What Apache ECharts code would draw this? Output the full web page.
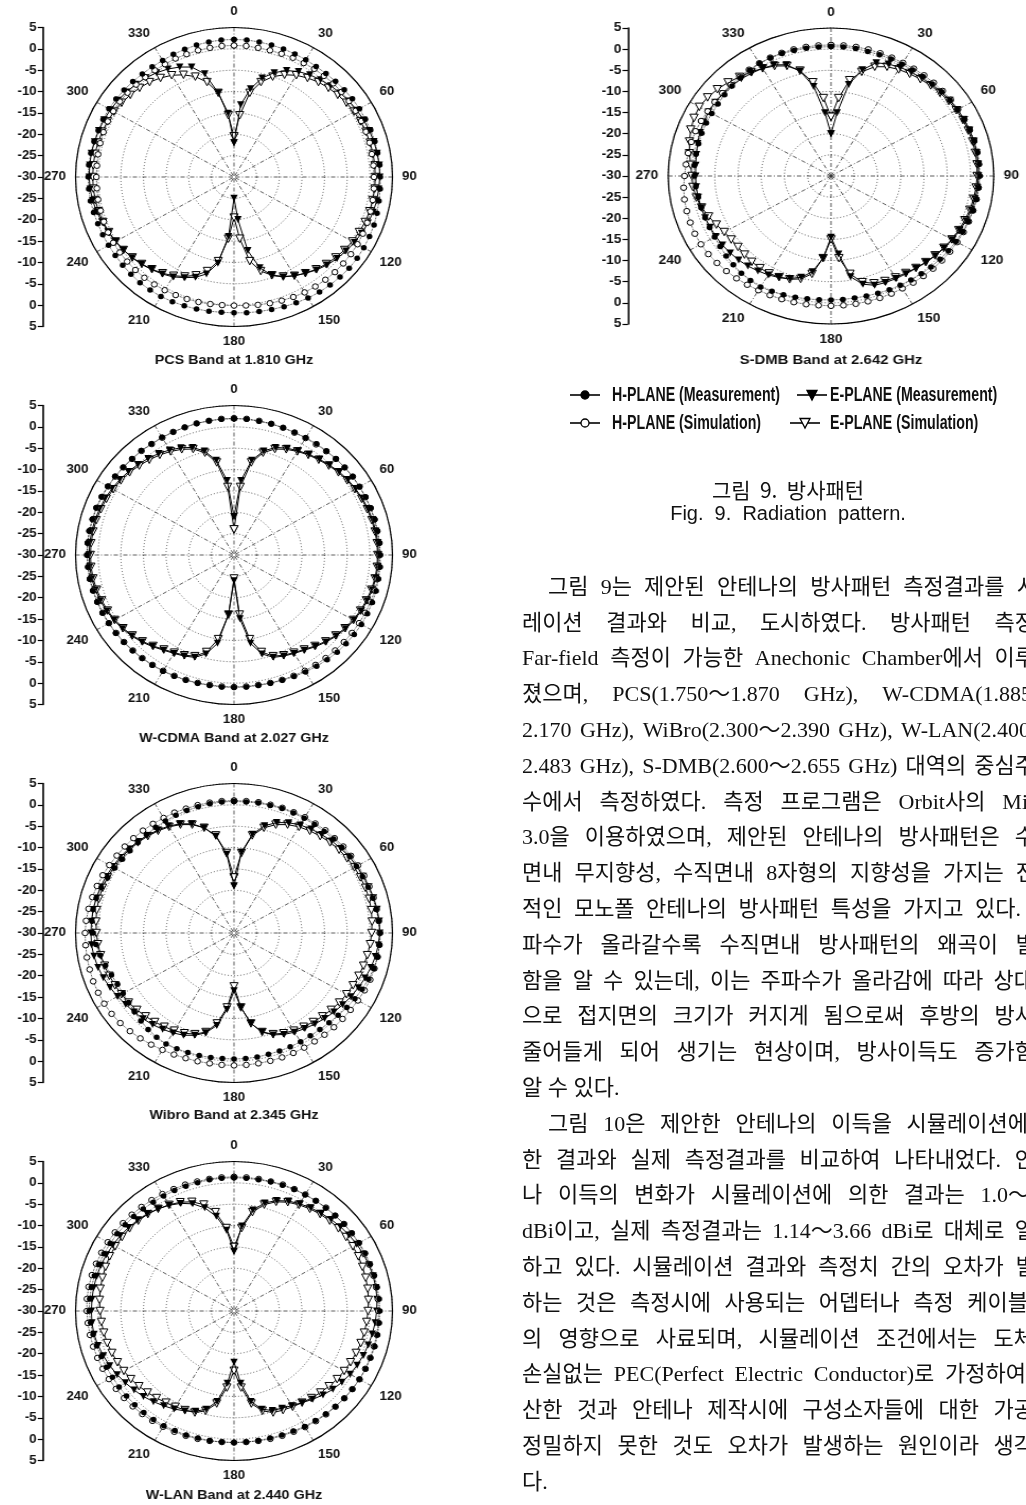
<!DOCTYPE html>
<html><head><meta charset="utf-8">
<script src="https://cdn.jsdelivr.net/npm/echarts@6/dist/echarts.min.js"></script>
<style>
html,body{margin:0;padding:0;background:#fff;width:1026px;height:1505px;overflow:hidden;}
#page{position:absolute;left:0;top:0;width:1026px;height:1505px;}
.plot{position:absolute;}
</style></head><body>
<div id="page"></div>
<div id="p0" class="plot"></div><div id="p1" class="plot"></div><div id="p2" class="plot"></div>
<div id="p3" class="plot"></div><div id="p4" class="plot"></div>
<script>
// ---------- DATA (dB, angles 0..355 step 5) ----------
const ANGLES = Array.from({length:72},(_, i)=>i*5);
const seriesNames = ['H-PLANE (Measurement)','H-PLANE (Simulation)','E-PLANE (Measurement)','E-PLANE (Simulation)'];
const plotTitles = ['PCS Band at 1.810 GHz','W-CDMA Band at 2.027 GHz','Wibro Band at 2.345 GHz','W-LAN Band at 2.440 GHz','S-DMB Band at 2.642 GHz'];

const pcsHMeas = [2.2,2.2,2.1,2.0,1.9,1.8,1.7,1.6,1.6,1.7,1.8,1.9,
 2.0,2.0,2.1,2.2,2.2,2.3,2.3,2.4,2.5,2.7,2.9,3.0,
 3.1,3.2,3.2,3.1,3.0,2.9,2.7,2.5,2.3,2.1,2.0,1.9,
 1.8,1.8,1.9,2.0,2.1,2.2,2.3,2.3,2.3,2.2,2.1,2.0,
 2.0,2.0,2.0,2.1,2.2,2.2,2.2,2.2,2.1,2.0,1.9,1.9,
 1.9,1.8,1.7,1.6,1.5,1.5,1.5,1.7,1.8,2.0,2.1,2.2];
const pcsHSim = [0.8,0.8,0.7,0.7,0.7,0.8,0.8,0.9,0.9,1.0,1.0,1.0,
 1.0,1.0,1.0,1.0,0.9,0.9,0.9,1.0,1.1,1.2,1.3,1.4,
 1.5,1.5,1.5,1.5,1.4,1.3,1.2,1.0,0.8,0.6,0.4,0.2,
 0.1,0.1,0.2,0.3,0.4,0.5,0.6,0.7,0.8,0.8,0.8,0.8,
 0.8,0.7,0.6,0.5,0.5,0.4,0.4,0.4,0.5,0.6,0.7,0.8,
 0.8,0.8,0.7,0.6,0.5,0.5,0.5,0.6,0.6,0.7,0.7,0.8];
const pcsEMeas = [-22,-13,-9,-6,-4,-2.5,-1.5,-0.8,-0.3,0.2,0.6,1.0,
 1.3,1.6,1.8,2.0,2.1,2.2,2.2,2.1,2.0,1.8,1.5,1.1,
 0.7,0.2,-0.3,-0.9,-1.6,-2.5,-3.3,-4.2,-5.5,-8,-12.5,-20,
 -25,-16,-9.5,-6.5,-5,-4,-3,-2.3,-1.7,-1.1,-0.6,-0.2,
 0.2,0.6,1.0,1.4,1.7,1.9,2.0,2.0,2.0,1.9,1.8,1.7,
 1.5,1.3,1.0,0.7,0.3,-0.2,-0.8,-1.6,-2.6,-5,-10,-15];
const pcsESim = [-20.5,-15.5,-10,-7,-5,-3.6,-2.5,-1.7,-1.0,-0.5,-0.1,0.3,
 0.6,0.8,1.0,1.1,1.2,1.2,1.2,1.2,1.1,1.0,0.8,0.5,
 0.2,-0.2,-0.7,-1.2,-1.8,-2.5,-3.3,-4.3,-5.5,-7.2,-10,-15.5,
 -20.5,-15.5,-10,-7.2,-5.5,-4.3,-3.3,-2.5,-1.8,-1.2,-0.7,-0.2,
 0.2,0.5,0.8,1.0,1.1,1.2,1.2,1.2,1.2,1.1,1.0,0.8,
 0.6,0.3,-0.1,-0.5,-1.0,-1.7,-2.5,-3.6,-5,-7,-10,-15.5];

const wcHMeas = [1.9,1.9,1.8,1.8,1.7,1.7,1.7,1.8,1.8,1.9,1.9,2.0,
 2.0,2.1,2.1,2.2,2.2,2.3,2.3,2.4,2.4,2.5,2.5,2.5,
 2.5,2.4,2.3,2.2,2.0,1.8,1.6,1.4,1.2,1.1,1.0,1.0,
 1.0,1.0,1.0,1.1,1.2,1.3,1.4,1.5,1.6,1.7,1.8,1.9,
 2.0,2.1,2.2,2.3,2.4,2.4,2.5,2.5,2.5,2.4,2.4,2.3,
 2.2,2.1,2.0,1.9,1.9,1.8,1.8,1.8,1.8,1.9,1.9,1.9];
const wcHSim = [2.0,2.0,1.9,1.8,1.7,1.6,1.6,1.6,1.7,1.8,1.9,2.0,
 2.0,2.0,2.1,2.1,2.1,2.2,2.2,2.2,2.2,2.2,2.1,2.0,
 1.9,1.8,1.7,1.6,1.5,1.4,1.3,1.2,1.1,1.0,0.9,0.9,
 0.9,0.9,0.9,1.0,1.1,1.2,1.3,1.4,1.5,1.6,1.7,1.8,
 1.9,2.0,2.1,2.2,2.3,2.3,2.4,2.4,2.4,2.3,2.3,2.2,
 2.1,2.0,1.9,1.8,1.8,1.7,1.7,1.8,1.8,1.9,1.9,2.0];
const wcEMeas = [-21,-12.5,-7.5,-4.8,-3.2,-2.4,-1.8,-1.2,-0.7,-0.2,0.3,0.7,
 1.0,1.3,1.5,1.7,1.8,1.9,1.9,1.9,1.8,1.6,1.3,1.0,
 0.6,0.1,-0.5,-1.2,-2.0,-2.8,-3.4,-3.9,-4.5,-6,-9,-15,
 -24,-16,-9,-6,-4.5,-3.9,-3.4,-2.8,-2.0,-1.2,-0.5,0.1,
 0.6,1.0,1.4,1.7,1.9,2.0,2.0,2.0,1.9,1.8,1.6,1.4,
 1.1,0.8,0.4,0,-0.5,-1.0,-1.6,-2.3,-3.2,-4.8,-7.5,-12.5];
const wcESim = [-24,-14,-8,-5.2,-3.6,-2.7,-2.0,-1.4,-0.9,-0.4,0.1,0.5,
 0.8,1.1,1.3,1.5,1.6,1.7,1.7,1.7,1.6,1.4,1.1,0.8,
 0.4,-0.1,-0.7,-1.4,-2.2,-3.0,-3.6,-4.1,-4.8,-6.5,-10,-16,
 -24.5,-16,-10,-6.5,-4.8,-4.1,-3.6,-3.0,-2.2,-1.4,-0.7,-0.1,
 0.4,0.8,1.1,1.4,1.6,1.7,1.7,1.7,1.6,1.5,1.3,1.1,
 0.8,0.5,0.1,-0.4,-0.9,-1.4,-2.0,-2.7,-3.6,-5.2,-8,-14];

const wbHMeas = [0.8,0.8,0.9,0.9,1.0,1.0,1.0,1.0,1.0,1.1,1.1,1.2,
 1.2,1.3,1.5,1.7,1.9,2.1,2.3,2.3,2.2,2.0,1.6,1.2,
 0.8,0.4,0.0,-0.3,-0.5,-0.6,-0.6,-0.6,-0.6,-0.6,-0.5,-0.5,
 -0.5,-0.5,-0.4,-0.3,-0.2,-0.1,0.0,-0.2,-0.5,-0.9,-1.3,-1.6,
 -1.7,-1.6,-1.2,-0.6,0.0,0.6,1.1,1.5,1.6,1.5,1.2,0.8,
 0.4,0.1,0.0,0.0,0.1,0.2,0.3,0.4,0.5,0.6,0.7,0.8];
const wbHSim = [1.0,1.0,1.1,1.1,1.2,1.2,1.3,1.3,1.4,1.4,1.5,1.5,
 1.6,1.7,1.8,1.9,2.0,2.1,2.2,2.2,2.2,2.1,2.0,1.8,
 1.6,1.4,1.3,1.2,1.1,1.0,1.0,1.0,1.0,1.0,1.0,1.0,
 1.0,1.0,1.0,1.1,1.2,1.4,1.6,1.9,2.2,2.5,2.8,3.0,
 3.1,3.1,3.1,3.0,3.0,2.9,2.9,2.8,2.6,2.4,2.2,2.0,
 1.8,1.6,1.5,1.4,1.3,1.2,1.1,1.1,1.0,1.0,1.0,1.0];
const wbEMeas = [-19,-11,-6.5,-4,-2.5,-1.5,-0.8,-0.3,0.1,0.5,0.8,1.1,
 1.3,1.5,1.7,1.9,2.1,2.2,2.2,2.0,1.7,1.3,0.8,0.3,
 -0.2,-0.7,-1.2,-1.7,-2.2,-2.7,-3.2,-3.8,-4.6,-6,-8.5,-12.5,
 -16.5,-12,-8,-5.8,-4.5,-3.6,-3.0,-2.5,-2.0,-1.6,-1.2,-0.8,
 -0.3,0.2,0.7,1.1,1.4,1.6,1.6,1.6,1.6,1.5,1.4,1.2,
 1.0,0.8,0.5,0.2,-0.2,-0.6,-1.1,-1.8,-2.8,-4.5,-7,-11.5];
const wbESim = [-17,-11.2,-6.8,-4.5,-3.0,-2.0,-1.3,-0.8,-0.4,0,0.3,0.5,
 0.7,0.8,0.9,0.9,0.8,0.6,0.4,0.2,-0.1,-0.4,-0.7,-1.0,
 -1.3,-1.6,-2.0,-2.4,-2.8,-3.2,-3.6,-4.1,-4.8,-6,-8.5,-12.5,
 -17.5,-12.5,-8.5,-6,-4.8,-4.1,-3.6,-3.2,-2.8,-2.4,-2.0,-1.6,
 -1.3,-1.0,-0.7,-0.4,-0.1,0.2,0.4,0.6,0.8,0.9,0.9,0.8,
 0.7,0.5,0.3,0,-0.4,-0.8,-1.3,-2.0,-3.0,-4.5,-6.8,-11.2];

const wlHMeas = [1.2,1.2,1.2,1.3,1.3,1.4,1.4,1.5,1.5,1.6,1.7,1.8,
 1.9,2.0,2.0,2.1,2.1,2.2,2.2,2.2,2.2,2.2,2.1,2.1,
 2.0,1.9,1.8,1.6,1.5,1.3,1.2,1.0,0.9,0.8,0.8,0.8,
 0.8,0.8,0.8,0.8,0.9,0.9,1.0,1.0,1.0,1.0,1.0,1.0,
 1.0,1.1,1.2,1.4,1.6,1.8,2.0,2.0,2.0,1.9,1.8,1.7,
 1.6,1.5,1.4,1.3,1.2,1.1,1.1,1.1,1.1,1.1,1.2,1.2];
const wlHSim = [1.4,1.4,1.4,1.4,1.5,1.5,1.5,1.5,1.6,1.6,1.7,1.7,
 1.8,1.8,1.8,1.9,1.9,1.9,1.9,2.0,2.0,2.0,2.0,2.0,
 2.0,1.9,1.8,1.7,1.6,1.5,1.4,1.2,1.1,1.0,0.9,0.8,
 0.8,0.8,0.9,1.0,1.1,1.2,1.3,1.4,1.5,1.6,1.7,1.8,
 1.9,2.0,2.1,2.2,2.3,2.4,2.5,2.6,2.6,2.5,2.4,2.3,
 2.2,2.1,2.0,1.9,1.8,1.7,1.6,1.5,1.5,1.4,1.4,1.4];
const wlEMeas = [-16,-10,-6,-3.8,-2.5,-1.6,-1.0,-0.5,-0.1,0.3,0.7,1.0,
 1.3,1.5,1.7,1.8,1.8,1.7,1.5,1.3,1.0,0.7,0.4,0.0,
 -0.4,-0.9,-1.5,-2.2,-3.0,-3.8,-4.4,-4.9,-5.2,-6.2,-8.5,-13,
 -18,-13,-8.5,-6.2,-5.0,-4.2,-3.5,-2.9,-2.3,-1.7,-1.2,-0.7,
 -0.2,0.3,0.7,1.1,1.4,1.5,1.5,1.5,1.5,1.4,1.3,1.1,
 0.9,0.7,0.4,0.1,-0.3,-0.8,-1.4,-2.2,-3.3,-5,-7.5,-11];
const wlESim = [-15,-10.5,-6.5,-4.2,-2.8,-1.9,-1.3,-0.8,-0.4,-0.1,0.1,0.2,
 0.3,0.3,0.2,0.1,0,-0.2,-0.4,-0.6,-0.8,-1.0,-1.3,-1.6,
 -1.9,-2.2,-2.6,-3.0,-3.4,-3.8,-4.1,-4.4,-4.7,-5.8,-8,-12,
 -16,-12,-8,-5.8,-4.7,-4.4,-4.1,-3.8,-3.4,-3.0,-2.6,-2.2,
 -1.9,-1.6,-1.3,-1.0,-0.8,-0.6,-0.4,-0.2,0,0.1,0.2,0.3,
 0.3,0.2,0.1,-0.1,-0.4,-0.8,-1.3,-1.9,-2.8,-4.2,-6.5,-10.5];

const sdHMeas = [0.6,0.6,0.6,0.5,0.5,0.5,0.5,0.6,0.7,0.8,1.0,1.2,
 1.4,1.6,1.8,1.9,2.0,2.0,2.0,1.9,1.8,1.6,1.4,1.2,
 1.0,0.8,0.6,0.4,0.2,0.0,-0.2,-0.3,-0.5,-0.6,-0.7,-0.7,
 -0.7,-0.6,-0.5,-0.3,-0.1,0.1,0.3,0.2,0.0,-0.3,-0.6,-0.9,
 -1.1,-1.2,-1.2,-1.1,-1.0,-0.8,-0.6,-0.5,-0.5,-0.5,-0.4,-0.4,
 -0.4,-0.3,-0.1,0.1,0.3,0.5,0.7,0.8,0.8,0.7,0.7,0.6];
const sdHSim = [1.0,1.0,1.0,1.0,0.9,0.9,0.9,1.0,1.1,1.2,1.3,1.4,
 1.5,1.6,1.7,1.8,1.8,1.8,1.8,1.8,1.7,1.6,1.5,1.4,
 1.3,1.2,1.1,1.0,0.9,0.8,0.7,0.7,0.7,0.7,0.7,0.7,
 0.7,0.7,0.8,0.9,1.0,1.1,1.2,1.4,1.6,1.8,2.0,2.2,
 2.3,2.3,2.2,2.1,2.0,1.8,1.5,1.3,1.2,1.1,1.0,0.8,
 0.6,0.5,0.5,0.5,0.6,0.7,0.8,0.9,1.0,1.0,1.0,1.0];
const sdEMeas = [-20,-15,-8,-4,-1.5,-0.8,-0.3,0,0.3,0.6,0.9,1.2,
 1.4,1.6,1.7,1.8,1.8,1.8,1.7,1.6,1.4,1.2,0.9,0.5,
 0.1,-0.3,-0.7,-1.1,-1.5,-1.8,-2.0,-2.2,-2.5,-3.5,-5.8,-11.5,
 -15.5,-10.5,-7,-5.2,-4.2,-3.5,-3.0,-2.6,-2.2,-1.9,-1.7,-1.5,
 -1.4,-1.3,-1.2,-1.1,-1.0,-0.9,-0.9,-0.8,-0.6,-0.3,0,0.2,
 0.4,0.4,0.3,0.2,0.0,-0.3,-0.6,-1.0,-2.0,-4.3,-8.5,-15];
const sdESim = [-16,-11.5,-7,-4.5,-2.5,-1.5,-0.9,-0.5,-0.1,0.3,0.6,0.9,
 1.1,1.3,1.4,1.5,1.5,1.5,1.4,1.3,1.1,0.9,0.6,0.3,
 0,-0.4,-0.8,-1.2,-1.6,-2.0,-2.3,-2.6,-3.0,-4,-6.5,-10.5,
 -15,-10.5,-6.5,-4.8,-4.0,-3.6,-3.4,-3.4,-3.5,-3.7,-3.9,-3.8,
 -3.5,-2.8,-2.0,-1.2,-0.6,-0.2,-0.1,0.3,0.9,1.5,2.1,2.5,
 2.7,2.4,1.9,1.3,0.6,0,-0.6,-1.3,-2.3,-4.2,-7.5,-11.5];

const bodyLines = [
 '그림 9는 제안된 안테나의 방사패턴 측정결과를 시',
 '레이션 결과와 비교, 도시하였다. 방사패턴 측정',
 'Far-field 측정이 가능한 Anechonic Chamber에서 이루',
 '졌으며, PCS(1.750～1.870 GHz), W-CDMA(1.885',
 '2.170 GHz), WiBro(2.300～2.390 GHz), W-LAN(2.400',
 '2.483 GHz), S-DMB(2.600～2.655 GHz) 대역의 중심주',
 '수에서 측정하였다. 측정 프로그램은 Orbit사의 Mi',
 '3.0을 이용하였으며, 제안된 안테나의 방사패턴은 수',
 '면내 무지향성, 수직면내 8자형의 지향성을 가지는 전',
 '적인 모노폴 안테나의 방사패턴 특성을 가지고 있다.',
 '파수가 올라갈수록 수직면내 방사패턴의 왜곡이 발',
 '함을 알 수 있는데, 이는 주파수가 올라감에 따라 상대',
 '으로 접지면의 크기가 커지게 됨으로써 후방의 방사',
 '줄어들게 되어 생기는 현상이며, 방사이득도 증가함',
 '알 수 있다.',
 '그림 10은 제안한 안테나의 이득을 시뮬레이션에',
 '한 결과와 실제 측정결과를 비교하여 나타내었다. 안',
 '나 이득의 변화가 시뮬레이션에 의한 결과는 1.0～',
 'dBi이고, 실제 측정결과는 1.14～3.66 dBi로 대체로 일',
 '하고 있다. 시뮬레이션 결과와 측정치 간의 오차가 발',
 '하는 것은 측정시에 사용되는 어뎁터나 측정 케이블',
 '의 영향으로 사료되며, 시뮬레이션 조건에서는 도체',
 '손실없는 PEC(Perfect Electric Conductor)로 가정하여',
 '산한 것과 안테나 제작시에 구성소자들에 대한 가공',
 '정밀하지 못한 것도 오차가 발생하는 원인이라 생각',
 '다.'
];

// ---------- LAYOUT ----------
const bodyIndent = [1,0,0,0,0,0,0,0,0,0,0,0,0,0,0,1,0,0,0,0,0,0,0,0,0,0];
const bodyRight = [1037,1035,1035,1032,1030,1035,1028,1035,1036,1021,1036,1034,1035,1035,0,1028,1035,1030,1035,1036,1028,1034,1026,1034,1034,0];
const BODY = {left:522, indentLeft:548, firstY:588, step:35.8, font:'22px "Liberation Serif", "Noto Sans CJK KR", serif'};

const PLOTS = [
 {el:'p0', t:0, data:[pcsHMeas,pcsHSim,pcsEMeas,pcsESim], cx:234, cy:177, r:149.5, sx:1.06, axisX:43, titleY:360},
 {el:'p1', t:1, data:[wcHMeas,wcHSim,wcEMeas,wcESim], cx:234, cy:555, r:149.5, sx:1.06, axisX:43, titleY:738},
 {el:'p2', t:2, data:[wbHMeas,wbHSim,wbEMeas,wbESim], cx:234, cy:933, r:149.5, sx:1.06, axisX:43, titleY:1115},
 {el:'p3', t:3, data:[wlHMeas,wlHSim,wlEMeas,wlESim], cx:234, cy:1311, r:149.5, sx:1.06, axisX:43, titleY:1495},
 {el:'p4', t:4, data:[sdHMeas,sdHSim,sdEMeas,sdESim], cx:831, cy:176, r:148, sx:1.10, axisX:628, titleY:360}
];

const LBL_FONT = '"Liberation Sans", Arial, sans-serif';

function makeSeries(vals, k){
  const pts = vals.map((v,i)=>[v, ANGLES[i]]);
  pts.push([vals[0], 360]);
  const base = {type:'line', coordinateSystem:'polar', polarIndex:0, data:pts, name:seriesNames[k],
    animation:false, silent:true, smooth:false};
  const black = '#000';
  if(k===0) return Object.assign(base,{symbol:'circle', symbolSize:5.5, itemStyle:{color:black},
      lineStyle:{color:black,width:0.8,type:'dotted'}, z:4});
  if(k===1) return Object.assign(base,{symbol:'circle', symbolSize:5.5, itemStyle:{color:'#fff',borderColor:black,borderWidth:1},
      lineStyle:{color:black,width:0.8,type:'dotted'}, z:3});
  if(k===2) return Object.assign(base,{symbol:'triangle', symbolRotate:180, symbolSize:7, itemStyle:{color:black},
      lineStyle:{color:black,width:1}, z:2});
  return Object.assign(base,{symbol:'triangle', symbolRotate:180, symbolSize:7.5, itemStyle:{color:'#fff',borderColor:black,borderWidth:1},
      lineStyle:{color:black,width:1}, z:1});
}

PLOTS.forEach(p=>{
  const W=460, H=420, lcx=230, lcy=195;
  const el = document.getElementById(p.el);
  el.style.left=(p.cx-lcx)+'px'; el.style.top=(p.cy-lcy)+'px';
  el.style.width=W+'px'; el.style.height=H+'px';
  el.style.transformOrigin = lcx+'px '+lcy+'px';
  el.style.transform = 'scaleX('+p.sx+')';
  const axisLocalX = lcx - (p.cx-p.axisX)/p.sx;
  const chart = echarts.init(el, null, {renderer:'canvas'});
  chart.setOption({
    animation:false,
    polar:{center:[lcx,lcy], radius:p.r},
    angleAxis:{type:'value', min:0, max:360, interval:30, startAngle:90, clockwise:true,
      axisLine:{show:true, lineStyle:{color:'#000', width:1.2}},
      axisTick:{show:false},
      axisLabel:{show:true, margin:9, color:'#111', fontWeight:'bold', fontSize:12.5, fontFamily:LBL_FONT,
        formatter:v=> (v>=360?'':String(v))},
      splitLine:{show:true, lineStyle:{color:'#333', width:0.8, type:[4,2,1,2]}}},
    radiusAxis:{type:'value', min:-30, max:5, interval:5,
      axisLine:{show:false}, axisTick:{show:false}, axisLabel:{show:false},
      splitLine:{show:true, lineStyle:{color:'#333', width:0.8, type:[1,2]}}},
    grid:{left:axisLocalX, top:lcy-p.r, width:10, height:2*p.r},
    xAxis:{type:'value', show:false, min:0, max:1},
    yAxis:{type:'value', min:-35, max:35, interval:5, position:'left',
      axisLine:{show:true, onZero:false, lineStyle:{color:'#000', width:1.6}},
      axisTick:{show:true, length:5, lineStyle:{color:'#000', width:1.2}},
      axisLabel:{show:true, margin:6, color:'#111', fontWeight:'bold', fontSize:12.5, fontFamily:LBL_FONT,
        formatter:v=>String(Math.abs(v)-30)},
      splitLine:{show:false}},
    graphic:{elements:[{type:'text', x:lcx, y:p.titleY-p.cy+lcy,
      style:{text:plotTitles[p.t], font:'bold 13.5px '+LBL_FONT, fill:'#111', align:'center', verticalAlign:'middle',
        textAlign:'center', textVerticalAlign:'middle'}}]},
    series:[makeSeries(p.data[3],3), makeSeries(p.data[2],2), makeSeries(p.data[1],1), makeSeries(p.data[0],0)]
  });
});

// ---------- page text (legend, caption, body) ----------
const page = echarts.init(document.getElementById('page'), null, {renderer:'canvas'});
const els = [];
function txt(text,x,y,font,align,sx){
  els.push({type:'text', x:x, y:y, scaleX:sx||1, silent:true,
    style:{text:text, font:font, fill:'#111', align:align||'left', verticalAlign:'middle',
      textAlign:align||'left', textVerticalAlign:'middle'}});
}
// legend
const LEG_FONT = 'bold 20px "Liberation Sans", Arial, sans-serif';
const legendItems = [
  {x:570, y:395, kind:0, tx:612}, {x:797, y:395, kind:2, tx:830},
  {x:570, y:423, kind:1, tx:612}, {x:790, y:423, kind:3, tx:830}];
legendItems.forEach(it=>{
  const w = 30, mx = it.x + w/2;
  els.push({type:'line', silent:true, shape:{x1:it.x, y1:it.y, x2:it.x+w, y2:it.y}, style:{stroke:'#000', lineWidth:1.6}});
  const fill = (it.kind===0||it.kind===2)?'#000':'#fff';
  if(it.kind<2) els.push({type:'circle', silent:true, shape:{cx:mx, cy:it.y, r:4}, style:{fill:fill, stroke:'#000', lineWidth:1.3}});
  else els.push({type:'polygon', silent:true, shape:{points:[[mx-5,it.y-4.5],[mx+5,it.y-4.5],[mx,it.y+5]]}, style:{fill:fill, stroke:'#000', lineWidth:1.3}});
  txt(seriesNames[it.kind], it.tx, it.y, LEG_FONT, 'left', 0.71);
});
// caption
txt('그림  9.  방사패턴', 788, 490, '21px "Noto Sans CJK KR", sans-serif', 'center');
txt('Fig.  9.  Radiation  pattern.', 788, 514, '20px "Liberation Sans", Arial, sans-serif', 'center');
// body text, justified line by line
const mctx = document.createElement('canvas').getContext('2d');
mctx.font = BODY.font;
const spaceW = mctx.measureText(' ').width;
bodyLines.forEach((line,i)=>{
  const words = line.split(' ');
  const widths = words.map(w=>mctx.measureText(w).width);
  const total = widths.reduce((a,b)=>a+b,0);
  const left = bodyIndent[i] ? BODY.indentLeft : BODY.left;
  let gap = spaceW;
  if(bodyRight[i] && words.length>1){ gap = (bodyRight[i]-left-total)/(words.length-1); if(gap<4) gap=4; }
  let x = left; const y = BODY.firstY + i*BODY.step;
  words.forEach((w,j)=>{ txt(w, x, y, BODY.font, 'left'); x += widths[j]+gap; });
});
page.setOption({backgroundColor:'#fff', animation:false, graphic:{elements:els}});
</script>
</body></html>
